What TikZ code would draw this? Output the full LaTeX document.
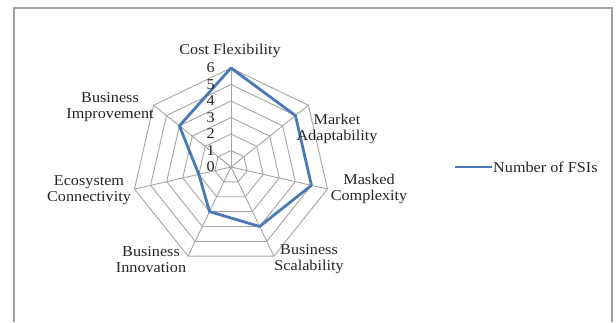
\documentclass[tikz,border=0pt]{standalone}
\usepackage{fontspec}
\setmainfont[FakeStretch=1.08]{Liberation Serif}
\usetikzlibrary{calc}
\definecolor{serblue}{RGB}{74,122,181}
\definecolor{gridgray}{RGB}{165,165,165}
\definecolor{framegray}{RGB}{160,160,160}
\begin{document}
\begin{tikzpicture}[x=1pt,y=1pt,
  font=\fontsize{15}{16}\selectfont,
  gridline/.style={draw=gridgray, line width=0.9pt},
  series/.style={draw=serblue, line width=2.8pt, line join=round},
  lab/.style={align=center, inner sep=0pt, text=black!85}]
\useasboundingbox (0,0) rectangle (616,322);
\fill[white] (0,0) rectangle (616,322);
\draw[draw=framegray, line width=1.5pt] (14,0) -- (14,314) -- (612,314) -- (612,0);
\coordinate (c) at (231,155);
% rings
\foreach \r in {1,...,6}{
  \draw[gridline] ($(c)+(90:{\r*16.5})$)
    \foreach \k in {1,...,6}{ -- ($(c)+({90-\k*360/7}:{\r*16.5})$) } -- cycle;
}
% spokes
\foreach \k in {0,...,6}{
  \coordinate (s\k) at ($(c)+({90-\k*360/7}:99)$);
  \draw[gridline] (c) -- (s\k);
}
% data
\foreach \v [count=\k from 0] in {6,5,5,4,3,2,4}{
  \coordinate (p\k) at ($(c)+({90-\k*360/7}:{\v*16.5})$);
}
\draw[series] (p0) -- (p1) -- (p2) -- (p3) -- (p4) -- (p5) -- (p6) -- cycle;
% scale numbers
\foreach \n in {0,...,6}{
  \node[lab, anchor=east] (n\n) at ($(c)+(-16,{\n*16.5})$) {\n};
}
% axis labels
\node[lab] (cf) at (230,271) {Cost Flexibility};
\node[lab] (ma) at (337,193) {Market\\Adaptability};
\node[lab] (mc) at (369,133) {Masked\\Complexity};
\node[lab] (bs) at (309,63) {Business\\Scalability};
\node[lab] (bi) at (151,62) {Business\\Innovation};
\node[lab] (ec) at (89,132) {Ecosystem\\Connectivity};
\node[lab] (bm) at (110,215) {Business\\Improvement};
% legend
\coordinate (l1) at (455,155);
\coordinate (l2) at (492,155);
\draw[series] (l1) -- (l2);
\node[lab, anchor=west] (leg) at ($(l2)+(1,0)$) {Number of FSIs};
\end{tikzpicture}
\end{document}
